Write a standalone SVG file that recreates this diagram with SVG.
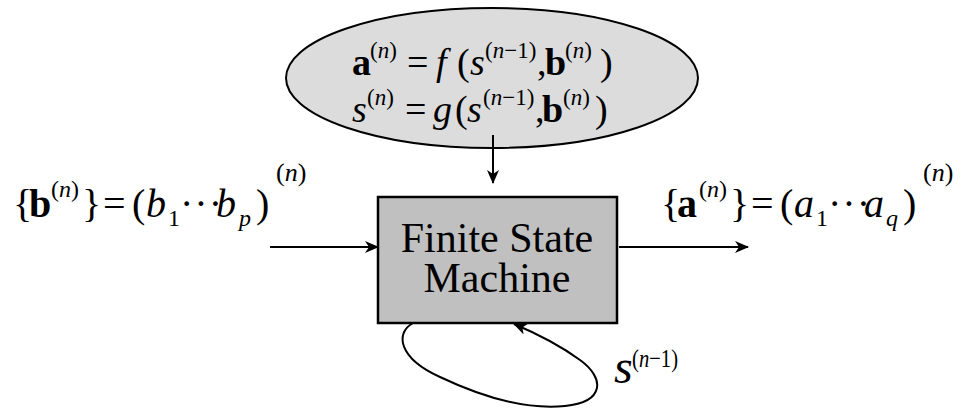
<svg xmlns="http://www.w3.org/2000/svg" width="962" height="409" viewBox="0 0 962 409" font-family="Liberation Serif, Times New Roman, serif">
<style>
.m{font-size:38px}
.L{font-size:40px}
.sup{font-size:23px}
.sub{font-size:24px}
.dots{letter-spacing:1px}
.i{font-style:italic}
.b{font-weight:bold}
.line{stroke:#000;stroke-width:2;fill:none}
</style>
<defs>
<marker id="ah" viewBox="0 0 14 12" refX="13" refY="6" markerWidth="14" markerHeight="12" markerUnits="userSpaceOnUse" orient="auto">
<path d="M0,0 L14,6 L0,12 L4,6 Z" fill="#000"/>
</marker>
</defs>
<g id="equations">
<ellipse cx="492" cy="78" rx="206" ry="70" fill="#dcdcdc" stroke="#000" stroke-width="2"/>
<text class="m"><tspan x="352" y="75" class="b">a</tspan><tspan x="370" y="58" class="sup">(<tspan class="i">n</tspan>)</tspan><tspan x="407" y="75">=</tspan><tspan x="436" y="75" class="i">f</tspan><tspan x="457" y="75">(</tspan><tspan x="470" y="75" class="i">s</tspan><tspan x="485" y="58" class="sup">(<tspan class="i">n</tspan>−1)</tspan><tspan x="537" y="75">,</tspan><tspan x="545" y="75" class="b">b</tspan><tspan x="565" y="58" class="sup">(<tspan class="i">n</tspan>)</tspan><tspan x="600" y="75">)</tspan></text>
<text class="m"><tspan x="352" y="122" class="i">s</tspan><tspan x="367" y="105" class="sup">(<tspan class="i">n</tspan>)</tspan><tspan x="405" y="122">=</tspan><tspan x="433" y="122" class="i">g</tspan><tspan x="455" y="122">(</tspan><tspan x="467" y="122" class="i">s</tspan><tspan x="483" y="105" class="sup">(<tspan class="i">n</tspan>−1)</tspan><tspan x="535" y="122">,</tspan><tspan x="542" y="122" class="b">b</tspan><tspan x="563" y="105" class="sup">(<tspan class="i">n</tspan>)</tspan><tspan x="595" y="122">)</tspan></text>
</g>
<g id="fsm">
<rect x="378" y="197" width="239" height="126" fill="#c0c0c0" stroke="#000" stroke-width="2.5"/>
<text x="497" y="252" font-size="42" text-anchor="middle">Finite State</text>
<text x="497" y="292" font-size="42" text-anchor="middle">Machine</text>
</g>
<g id="input-label">
<text class="L"><tspan x="13" y="217">{</tspan><tspan x="29" y="217" class="b">b</tspan><tspan x="51" y="197" font-size="24">(<tspan class="i">n</tspan>)</tspan><tspan x="82" y="217">}</tspan><tspan x="103" y="217">=</tspan><tspan x="132" y="217">(</tspan><tspan x="146" y="217" class="i">b</tspan><tspan x="168" y="226" class="sub">1</tspan><tspan x="180" y="217" class="dots">···</tspan><tspan x="216" y="217" class="i">b</tspan><tspan x="239" y="226" class="sub i">p</tspan><tspan x="256" y="217">)</tspan><tspan x="276" y="181" font-size="26">(<tspan class="i">n</tspan>)</tspan></text>
</g>
<g id="output-label">
<text class="L"><tspan x="661" y="217">{</tspan><tspan x="677" y="217" class="b">a</tspan><tspan x="699" y="197" font-size="24">(<tspan class="i">n</tspan>)</tspan><tspan x="730" y="217">}</tspan><tspan x="751" y="217">=</tspan><tspan x="780" y="217">(</tspan><tspan x="794" y="217" class="i">a</tspan><tspan x="816" y="226" class="sub">1</tspan><tspan x="828" y="217" class="dots">···</tspan><tspan x="864" y="217" class="i">a</tspan><tspan x="886" y="226" class="sub i">q</tspan><tspan x="903" y="217">)</tspan><tspan x="923" y="181" font-size="26">(<tspan class="i">n</tspan>)</tspan></text>
</g>
<g id="state-label">
<text><tspan x="614" y="383" font-size="48" class="i">s</tspan><tspan x="632" y="367" font-size="26" textLength="46" lengthAdjust="spacingAndGlyphs">(<tspan class="i">n</tspan>−1)</tspan></text>
</g>
<g id="connectors">
<line class="line" x1="493" y1="135" x2="493" y2="183" marker-end="url(#ah)"/>
<line class="line" x1="270" y1="247" x2="378" y2="247" marker-end="url(#ah)"/>
<line class="line" x1="619" y1="247" x2="748" y2="247" marker-end="url(#ah)"/>
<path class="line" d="M413 323 C395 333 398 358 440 377 C480 396 525 410 565 406 C605 402 605 378 580 360 C565 349 545 337 514 324" marker-end="url(#ah)"/>
</g>
</svg>
